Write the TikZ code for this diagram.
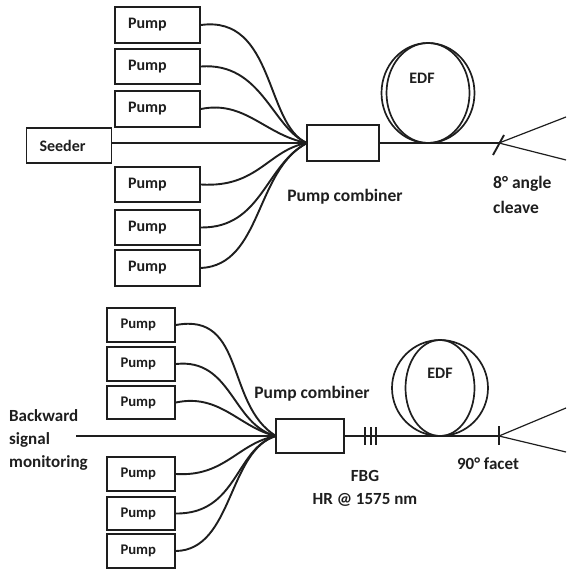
\documentclass[tikz,border=0pt]{standalone}
\usepackage{fontspec}
\setmainfont{Carlito}
\usepackage{xcolor}
\usetikzlibrary{shapes.geometric,positioning,calc}
\definecolor{fiberblack}{RGB}{30,30,30}

\begin{document}
\begin{tikzpicture}[
    x=1pt, y=-1pt,
    pumpbox/.style={rectangle, draw=fiberblack, line width=1.9pt, fill=white, minimum width=85pt, minimum height=35.5pt, inner xsep=13pt, inner ysep=0pt, text width=59pt, align=left, text=fiberblack, font=\fontsize{16}{18}\selectfont\bfseries},
    lowerpump/.style={pumpbox, minimum width=68pt, minimum height=33.5pt, text width=41pt, font=\fontsize{14.7}{17}\selectfont\bfseries},
    combiner/.style={rectangle, draw=fiberblack, line width=1.9pt, fill=white, minimum width=72pt, minimum height=36pt, inner sep=0pt},
    coil/.style={ellipse, draw=fiberblack, line width=1.7pt, inner sep=0pt},
    fiber/.style={draw=fiberblack, line width=1.9pt},
    beam/.style={draw=fiberblack, line width=1.2pt},
    caption/.style={inner sep=0pt, align=center, text=fiberblack, font=\fontsize{17.5}{25}\selectfont\bfseries},
    smallcaption/.style={caption, font=\fontsize{17}{23}\selectfont\bfseries}
]
\useasboundingbox (0,0) rectangle (566,569);

% Upper laser
\node[pumpbox] (pumpa) at (157.5,25) {Pump};
\node[pumpbox] (pumpb) at (157.5,66.5) {Pump};
\node[pumpbox] (pumpc) at (157.5,109) {Pump};
\node[pumpbox] (seeder) at (69,145.5) {Seeder};
\node[pumpbox] (pumpd) at (157.5,184.5) {Pump};
\node[pumpbox] (pumpe) at (157.5,227.5) {Pump};
\node[pumpbox] (pumpf) at (157.5,268) {Pump};
\node[combiner] (comb) at (343,143) {};
\node[coil, minimum width=93pt, minimum height=100pt] (coilout) at (428,93) {};
\node[coil, minimum width=83pt, minimum height=100pt] (coilin) at (428,93) {};
\coordinate (join) at (307,143);
\coordinate (seedout) at (seeder.east |- join);
\coordinate (cleave) at (499,143);
\coordinate (cleavetop) at (504,135);
\coordinate (cleavebot) at (493,155);
\coordinate (beamup) at (566,117);
\coordinate (beamdown) at (566,160);

% Upper fibers
\draw[fiber] (pumpa.east) .. controls (275,15) and (265,125) .. (join);
\draw[fiber] (pumpb.east) .. controls (262,62) and (272,128) .. (join);
\draw[fiber] (pumpc.east) .. controls (245,100) and (265,135) .. (join);
\draw[fiber] (seedout) -- (join);
\draw[fiber] (pumpd.east) .. controls (258,188) and (268,150) .. (join);
\draw[fiber] (pumpe.east) .. controls (262,228) and (265,165) .. (join);
\draw[fiber] (pumpf.east) .. controls (262,265) and (255,170) .. (join);
\draw[fiber] (comb.east) -- (cleave);
\draw[fiber] (cleavetop) -- (cleavebot);
\draw[beam] (cleave) -- (beamup);
\draw[beam] (cleave) -- (beamdown);

% Upper labels
\node[caption, font=\fontsize{16}{18}\selectfont\bfseries] (edfa) at (422,78) {EDF};
\node[caption] (combtext) at (345,197) {Pump combiner};
\node[caption, align=left, anchor=west] (cleavetext) at (493,194.5) {8\textdegree\ angle\\cleave};

% Lower laser
\node[lowerpump] (pumpg) at (141,325) {Pump};
\node[lowerpump] (pumph) at (141,364) {Pump};
\node[lowerpump] (pumpi) at (141,402.5) {Pump};
\node[lowerpump] (pumpj) at (141,474) {Pump};
\node[lowerpump] (pumpk) at (141,513.5) {Pump};
\node[lowerpump] (pumpl) at (141,551) {Pump};
\node[combiner, minimum width=68pt, minimum height=34pt] (combb) at (310,436) {};
\node[coil, minimum width=96pt, minimum height=96pt] (coilouter) at (440,388) {};
\node[coil, minimum width=69pt, minimum height=96pt] (coilinner) at (440,388) {};
\coordinate (joinb) at (276,436);
\coordinate (monitor) at (76,436);
\coordinate (facet) at (499,436);
\coordinate (facettop) at (499,426);
\coordinate (facetbot) at (499,445);
\coordinate (beamupb) at (566,408);
\coordinate (beamdownb) at (566,452);
\coordinate (fbgat) at (365,427);
\coordinate (fbgbt) at (371,427);
\coordinate (fbgct) at (376,427);
\coordinate (fbgab) at (365,445);
\coordinate (fbgbb) at (371,445);
\coordinate (fbgcb) at (376,445);

% Lower fibers
\draw[fiber] (pumpg.east) .. controls (246,312) and (225,405) .. (joinb);
\draw[fiber] (pumph.east) .. controls (232,358) and (232,425) .. (joinb);
\draw[fiber] (pumpi.east) .. controls (220,393) and (240,428) .. (joinb);
\draw[fiber] (monitor) -- (joinb);
\draw[fiber] (pumpj.east) .. controls (225,477) and (238,443) .. (joinb);
\draw[fiber] (pumpk.east) .. controls (238,514) and (235,448) .. (joinb);
\draw[fiber] (pumpl.east) .. controls (233,550) and (228,450) .. (joinb);
\draw[fiber] (combb.east) -- (facet);
\draw[fiber] (facettop) -- (facetbot);
\draw[fiber] (fbgat) -- (fbgab);
\draw[fiber] (fbgbt) -- (fbgbb);
\draw[fiber] (fbgct) -- (fbgcb);
\draw[beam] (facet) -- (beamupb);
\draw[beam] (facet) -- (beamdownb);

% Lower labels
\node[caption, font=\fontsize{16}{18}\selectfont\bfseries] (edfb) at (440,373) {EDF};
\node[caption] (combbtext) at (312,394) {Pump combiner};
\node[smallcaption, align=left, anchor=west] (backtext) at (9,440) {Backward\\signal\\monitoring};
\node[smallcaption] (fbgtext) at (365,488) {FBG\\HR @ 1575 nm};
\node[smallcaption] (facettext) at (488,464) {90\textdegree\ facet};

\end{tikzpicture}
\end{document}
